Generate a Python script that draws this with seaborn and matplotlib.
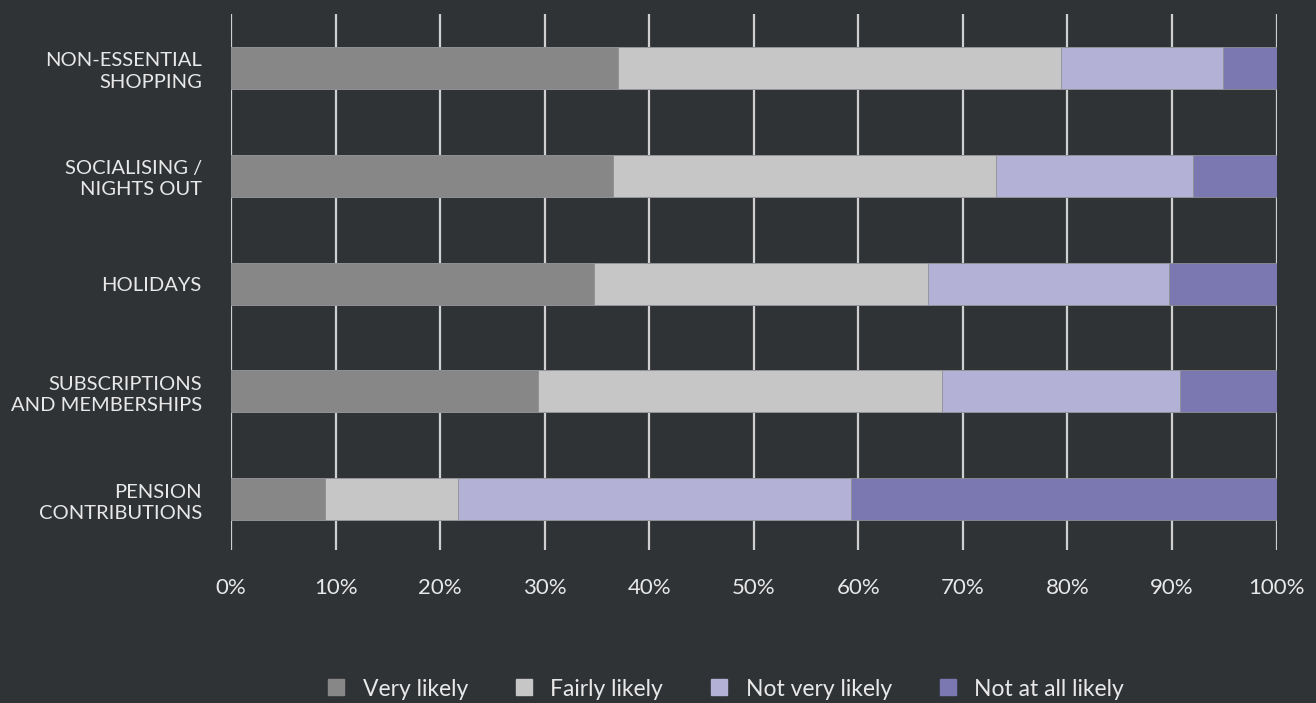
import matplotlib
matplotlib.use("Agg")
import matplotlib.pyplot as plt
from matplotlib.lines import Line2D
import numpy as np
import pandas as pd
import seaborn as sns

categories = ["NON-ESSENTIAL\nSHOPPING", "SOCIALISING /\nNIGHTS OUT", "HOLIDAYS",
              "SUBSCRIPTIONS\nAND MEMBERSHIPS", "PENSION\nCONTRIBUTIONS"]
series_names = ["Very likely", "Fairly likely", "Not very likely", "Not at all likely"]
very_likely = [37.0, 36.5, 34.7, 29.4, 9.0]
fairly_likely = [42.4, 36.7, 32.0, 38.6, 12.7]
not_very_likely = [15.5, 18.8, 23.0, 22.8, 37.6]
not_at_all_likely = [5.1, 8.0, 10.3, 9.2, 40.7]
x_ticks = [0, 10, 20, 30, 40, 50, 60, 70, 80, 90, 100]
x_tick_labels = ["0%", "10%", "20%", "30%", "40%", "50%", "60%", "70%", "80%", "90%", "100%"]

colors = ["#878787", "#c6c6c6", "#b4b1d6", "#7a77b1"]
bg = "#303336"
text_col = "#e8e8e8"

sns.set_theme(style="white")
plt.rcParams["font.family"] = ["Lato", "DejaVu Sans"]

series = [very_likely, fairly_likely, not_very_likely, not_at_all_likely]
cum = np.cumsum(np.array(series), axis=0)

fig = plt.figure(figsize=(13.16, 7.03), dpi=100, facecolor=bg)
ax = fig.add_axes([231 / 1316, 1 - 550 / 703, (1276.5 - 231) / 1316, (550 - 14) / 703])
ax.set_facecolor("none")

# gridlines behind bars
ax.set_axisbelow(True)
ax.xaxis.grid(True, color="#cfcfcf", linewidth=1.6)
ax.yaxis.grid(False)

# draw cumulative bars from largest to smallest so they stack
for i in range(3, -1, -1):
    df = pd.DataFrame({"cat": categories, "val": cum[i]})
    sns.barplot(data=df, x="val", y="cat", orient="h", color=colors[i],
                width=0.39, ax=ax, edgecolor="#8f8f95", linewidth=0.6,
                saturation=1, zorder=3)

ax.set_xlim(0, 100)
ax.set_ylim(4.47, -0.5)
ax.set_xticks(x_ticks)
ax.set_xticklabels(x_tick_labels, fontsize=16, color=text_col)
ax.tick_params(axis="x", length=0, pad=20)
ax.tick_params(axis="y", length=0, pad=21)
for lbl in ax.get_yticklabels():
    lbl.set_fontsize(14.5)
    lbl.set_color(text_col)
    lbl.set_horizontalalignment("right")
    lbl.set_multialignment("right")
    lbl.set_linespacing(1.3)
ax.set_xlabel("")
ax.set_ylabel("")
for s in ax.spines.values():
    s.set_visible(False)

handles = [Line2D([0], [0], marker="s", linestyle="none", markersize=11,
                  markerfacecolor=c, markeredgecolor=c) for c in colors]
leg = fig.legend(handles, series_names, loc="center", bbox_to_anchor=(726 / 1316, 1 - 689 / 703),
                 ncol=4, frameon=False, fontsize=16.5, columnspacing=2.1, handlelength=0.7,
                 handletextpad=0.8, labelcolor=text_col)

fig.savefig("out.png", dpi=100, facecolor=bg)
